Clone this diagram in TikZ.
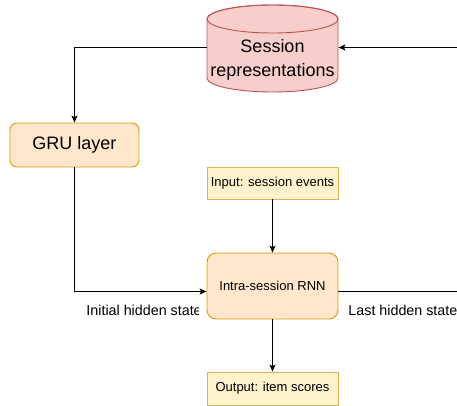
\documentclass[tikz,border=0pt]{standalone}
\usepackage{fontspec}
\setmainfont{Liberation Sans}
\usetikzlibrary{arrows.meta}
\definecolor{redfill}{HTML}{F8CECC}
\definecolor{redline}{HTML}{B85450}
\definecolor{orangefill}{HTML}{FFE6CC}
\definecolor{orangeline}{HTML}{D79B00}
\definecolor{yellowfill}{HTML}{FFF2CC}
\definecolor{yellowline}{HTML}{D6B656}
\begin{document}
\begin{tikzpicture}[x=1pt, y=-1pt, line width=0.9pt,
    every node/.style={font=\fontsize{13}{15}\selectfont, inner sep=0pt},
    bigtext/.style={font=\fontsize{18}{24}\selectfont, align=center},
    edgetext/.style={font=\fontsize{14.3}{16}\selectfont, anchor=west},
    rnnbox/.style={draw=orangeline, fill=orangefill, rounded corners=9pt},
    iobox/.style={draw=yellowline, fill=yellowfill},
    flow/.style={-{Stealth[length=7pt, width=6pt, inset=1.5pt]}}]
    \useasboundingbox (0,0) rectangle (457,406);

    % Session store (cylinder drawn by hand)
    \filldraw[draw=redline, fill=redfill] (207,19) -- (207,78)
      arc[start angle=180, end angle=360, x radius=65.5pt, y radius=14pt]
      -- (338,19)
      arc[start angle=0, end angle=180, x radius=65.5pt, y radius=14pt] -- cycle;
    \draw[redline] (272.5,19) ellipse[x radius=65.5pt, y radius=14pt];
    \node (sessrep) [minimum width=131pt, minimum height=87pt] at (272.5,48.5) {};
    \node (sessreptext) [bigtext] at (272.5,60) {Session\\representations};

    % Boxes
    \node (gru) [rnnbox, rounded corners=7pt, minimum width=129pt, minimum height=44pt, bigtext] at (74.5,145) {GRU layer};
    \node (input) [iobox, minimum width=131pt, minimum height=32pt] at (272.5,183) {Input: session events};
    \node (rnn) [rnnbox, minimum width=131pt, minimum height=66pt] at (272.5,286) {Intra-session RNN};
    \node (output) [iobox, minimum width=131pt, minimum height=33pt] at (272.5,388.5) {Output: item scores};

    % Free ends at the right border
    \coordinate (rightin) at (457,47.5);
    \coordinate (rightout) at (457,291.5);

    % Connectors
    \draw[flow] (rightin) -- (sessrep.east |- rightin);
    \draw[flow] (sessrep.west |- rightin) -| (gru.north);
    \draw[flow] (gru.south) |- ([yshift=-5.5pt]rnn.west);
    \draw (rnn.east |- rightout) -- (rightout);
    \draw[flow] (input.south) -- (rnn.north);
    \draw[flow] (rnn.south) -- (output.north);

    % Edge labels
    \begin{scope}
      \clip (0,298) rectangle (198,322);
      \node (initlabel) [edgetext] at (86,310) {Initial hidden state};
    \end{scope}
    \node (lastlabel) [edgetext] at (348,310) {Last hidden state};
  \end{tikzpicture}
\end{document}
